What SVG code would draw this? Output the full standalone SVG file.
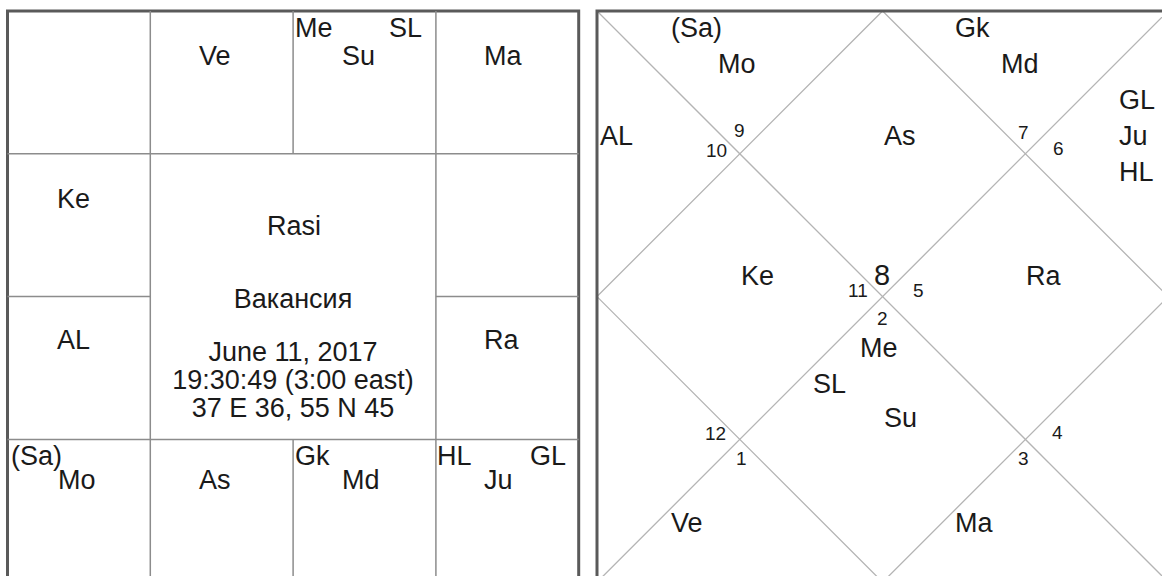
<svg xmlns="http://www.w3.org/2000/svg" width="1162" height="576" viewBox="0 0 1162 576">
<style>
text{font-family:"Liberation Sans",Arial,sans-serif;font-size:27px;fill:#1a1a1a}
.mid{text-anchor:middle}
.num{font-size:19px}
.big{font-size:29px}
.border{fill:none;stroke:#5a5a5a;stroke-width:3}
.grid{stroke:#8c8c8c;stroke-width:1.5;fill:none}
.diag{stroke:#b4b4b4;stroke-width:1.3;fill:none}
</style>
<rect x="0" y="0" width="1162" height="576" fill="#fff"/>
<g id="connectors">
  <g id="left-grid">
    <rect class="border" x="7.5" y="11" width="571.2" height="571.2"/>
    <line class="grid" x1="150.3" y1="11" x2="150.3" y2="582"/>
    <line class="grid" x1="435.9" y1="11" x2="435.9" y2="582"/>
    <line class="grid" x1="293.1" y1="11" x2="293.1" y2="153.8"/>
    <line class="grid" x1="293.1" y1="439.4" x2="293.1" y2="582"/>
    <line class="grid" x1="7.5" y1="153.8" x2="578.7" y2="153.8"/>
    <line class="grid" x1="7.5" y1="439.4" x2="578.7" y2="439.4"/>
    <line class="grid" x1="7.5" y1="296.6" x2="150.3" y2="296.6"/>
    <line class="grid" x1="435.9" y1="296.6" x2="578.7" y2="296.6"/>
  </g>
  <g id="right-grid">
    <line class="diag" x1="597" y1="11" x2="1168.2" y2="582.2"/>
    <line class="diag" x1="1168.2" y1="11" x2="597" y2="582.2"/>
    <polygon class="diag" points="882.6,11 1168.2,296.6 882.6,582.2 597,296.6"/>
    <rect class="border" x="597" y="11" width="571.2" height="571.2"/>
  </g>
</g>
<g id="left-chart">
  <g id="L-h1"><text x="199" y="65">Ve</text></g>
  <g id="L-h2"><text x="295" y="37">Me</text><text x="389" y="37">SL</text><text x="342" y="65">Su</text></g>
  <g id="L-h3"><text x="484" y="65">Ma</text></g>
  <g id="L-h11"><text x="57" y="208">Ke</text></g>
  <g id="L-center">
    <text class="mid" x="294" y="235">Rasi</text>
    <text class="mid" x="293" y="308">Вакансия</text>
    <text class="mid" x="293" y="361">June 11, 2017</text>
    <text class="mid" x="293" y="389">19:30:49 (3:00 east)</text>
    <text class="mid" x="293" y="417">37 E 36, 55 N 45</text>
  </g>
  <g id="L-h10"><text x="57" y="349">AL</text></g>
  <g id="L-h5"><text x="484" y="349">Ra</text></g>
  <g id="L-h9"><text x="11" y="465">(Sa)</text><text x="58" y="489">Mo</text></g>
  <g id="L-h8"><text x="199" y="489">As</text></g>
  <g id="L-h7"><text x="295" y="465">Gk</text><text x="342" y="489">Md</text></g>
  <g id="L-h6"><text x="437" y="465">HL</text><text x="530" y="465">GL</text><text x="484" y="489">Ju</text></g>
</g>
<g id="right-chart">
  <g id="R-h9"><text x="671" y="37">(Sa)</text><text x="718" y="73">Mo</text><text class="num" x="734" y="137">9</text></g>
  <g id="R-h7"><text x="955" y="37">Gk</text><text x="1001" y="73">Md</text><text class="num" x="1018" y="139">7</text></g>
  <g id="R-h10"><text x="600" y="145">AL</text><text class="num" x="706" y="157">10</text></g>
  <g id="R-h8"><text x="884" y="145">As</text><text class="big" x="874" y="285">8</text></g>
  <g id="R-h6"><text class="num" x="1053" y="155">6</text><text x="1119" y="109">GL</text><text x="1119" y="145">Ju</text><text x="1119" y="181">HL</text></g>
  <g id="R-h11"><text x="741" y="285">Ke</text><text class="num" x="848" y="297">11</text></g>
  <g id="R-h5"><text x="1026" y="285">Ra</text><text class="num" x="913" y="297">5</text></g>
  <g id="R-h2"><text class="num" x="877" y="325">2</text><text x="860" y="357">Me</text><text x="813" y="393">SL</text><text x="884" y="427">Su</text></g>
  <g id="R-h12"><text class="num" x="705" y="440">12</text></g>
  <g id="R-h1"><text class="num" x="736" y="465">1</text><text x="671" y="532">Ve</text></g>
  <g id="R-h4"><text class="num" x="1052" y="439">4</text></g>
  <g id="R-h3"><text class="num" x="1018" y="465">3</text><text x="955" y="532">Ma</text></g>
</g>
</svg>
